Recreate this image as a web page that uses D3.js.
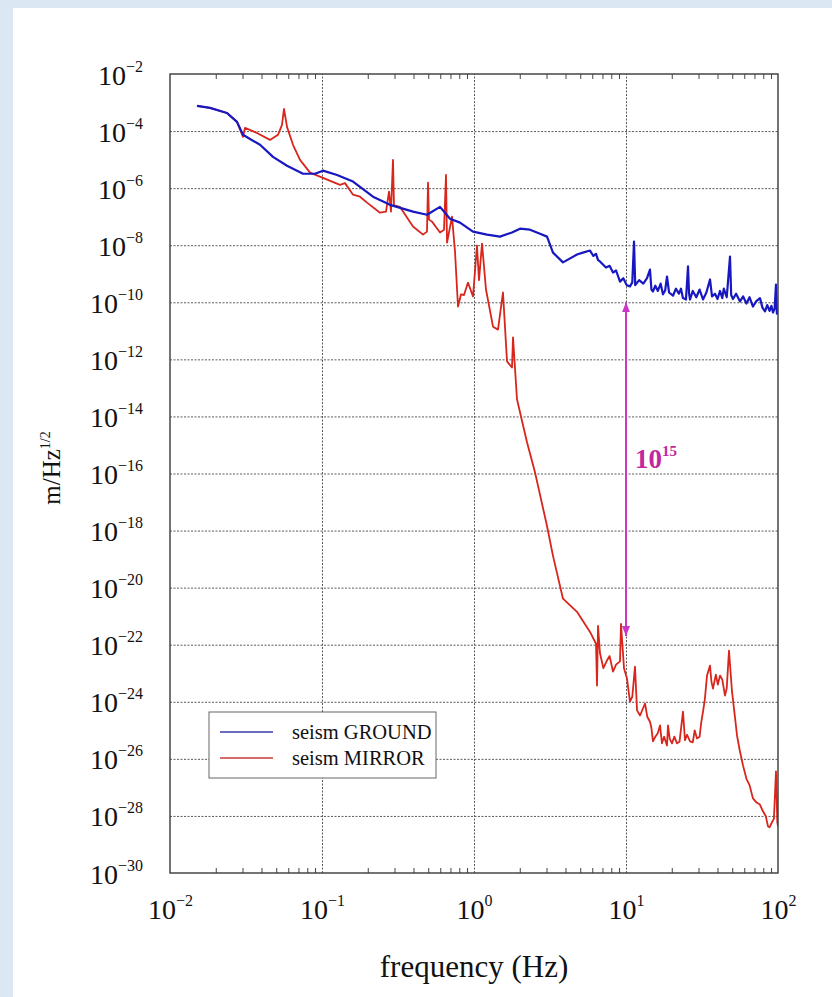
<!DOCTYPE html>
<html>
<head>
<meta charset="utf-8">
<script src="https://cdn.jsdelivr.net/npm/d3@7"></script>
<style>
  html, body { margin: 0; padding: 0; background: #dce7f4; }
  svg { display: block; }
</style>
</head>
<body>
<svg id="chart" width="832" height="997"></svg>
<script>
// ---------------- data ----------------
const xTickExps = [-2, -1, 0, 1, 2];
const yTickExps = [-2, -4, -6, -8, -10, -12, -14, -16, -18, -20, -22, -24, -26, -28, -30];
const seriesNames = ["seism GROUND", "seism MIRROR"];
const xLabel = "frequency (Hz)";
const yLabelMain = "m/Hz";
const yLabelSup = "1/2";

// seism GROUND (Hz, m/Hz^1/2)
const groundFreq = [0.01505, 0.01833, 0.02371, 0.02759, 0.03022, 0.03361, 0.0391, 0.0476, 0.05886, 0.07499,
  0.08995, 0.1015, 0.1256, 0.16, 0.2165, 0.2802, 0.397, 0.4906, 0.5975, 0.6953,
  0.809, 0.985, 1.217, 1.483, 1.778, 2.007, 2.336, 2.718, 3.022, 3.309,
  3.85, 4.76, 5.2, 5.798, 6.1, 6.348, 6.55, 6.744, 7.0, 7.386,
  7.8, 8.213, 8.6, 9.131, 9.6, 10.1, 10.62, 11.0, 11.29, 11.5,
  12.2, 13.0, 13.75, 14.38, 14.7, 15.05, 15.6, 16.2, 16.9, 17.51,
  18.1, 18.61, 19.2, 20.38, 21.3, 22.3, 23.0, 23.7, 24.81, 25.58,
  26.0, 26.38, 27.5, 29.0, 30.5, 32.11, 33.8, 35.7, 36.8, 38.5,
  40.0, 41.54, 43.0, 44.0, 46.0, 48.33, 49.2, 50.57, 53.0, 56.23,
  59.0, 62.0, 65.0, 68.45, 72.0, 76.12, 79.0, 82.13, 85.0, 88.0,
  90.5, 92.71, 95.0, 97.0, 98.3, 100];
const groundAmp = [7.6e-4, 6.5e-4, 4.3e-4, 2.1e-4, 7.4e-5, 5.3e-5, 3.3e-5, 1.25e-5, 6.1e-6, 3.2e-6,
  3.2e-6, 4.1e-6, 2.9e-6, 1.7e-6, 5.0e-7, 2.6e-7, 1.5e-7, 1.17e-7, 2.2e-7, 8.5e-8,
  6.2e-8, 3.0e-8, 2.35e-8, 2.0e-8, 2.8e-8, 3.8e-8, 3.5e-8, 2.5e-8, 2.0e-8, 5.5e-9,
  2.5e-9, 4.7e-9, 5.5e-9, 6.5e-9, 4.2e-9, 5.0e-9, 3.0e-9, 2.7e-9, 2.2e-9, 1.65e-9,
  1.9e-9, 1.1e-9, 1.3e-9, 5.3e-10, 7.0e-10, 4.0e-10, 3.6e-10, 5.0e-10, 1.34e-8, 4.0e-10,
  6.0e-10, 4.5e-10, 7.0e-10, 1.4e-9, 2.8e-10, 2.4e-10, 3.8e-10, 2.5e-10, 4.5e-10, 1.9e-10,
  2.6e-10, 8.0e-10, 2.2e-10, 1.7e-10, 3.0e-10, 2.0e-10, 3.0e-10, 1.4e-10, 1.25e-10, 1.8e-9,
  2.0e-10, 1.25e-10, 2.5e-10, 1.5e-10, 2.8e-10, 1.25e-10, 2.2e-10, 6.3e-10, 1.6e-10, 2.0e-10,
  1.3e-10, 2.5e-10, 1.4e-10, 3.0e-10, 1.5e-10, 4.0e-9, 1.8e-10, 1.3e-10, 2.0e-10, 1.07e-10,
  1.6e-10, 9.0e-11, 1.5e-10, 7.1e-11, 1.1e-10, 1.4e-10, 6.5e-11, 4.8e-11, 8.0e-11, 5.0e-11,
  7.5e-11, 4.4e-11, 6.0e-11, 4.2e-10, 4.0e-11, 5.0e-11];

// seism MIRROR (Hz, m/Hz^1/2)
const mirrorFreq = [0.01505, 0.01833, 0.02371, 0.02759, 0.02931, 0.03022, 0.03114, 0.03736, 0.04548, 0.05134,
  0.05455, 0.05623, 0.05886, 0.06445, 0.07166, 0.0834, 0.1015, 0.1314, 0.1417, 0.16,
  0.1778, 0.1978, 0.2407, 0.2637, 0.2759, 0.2844, 0.2931, 0.2976, 0.326, 0.397,
  0.4618, 0.4906, 0.4983, 0.5058, 0.5293, 0.5975, 0.6348, 0.6543, 0.6647, 0.7166,
  0.7499, 0.7847, 0.8216, 0.8594, 0.9131, 0.985, 1.046, 1.079, 1.129, 1.199,
  1.334, 1.438, 1.551, 1.649, 1.778, 1.806, 1.918, 2.232, 2.519, 3.022,
  3.309, 3.85, 4.76, 5.798, 6.348, 6.446, 6.545, 6.744, 7.1, 7.499,
  7.8, 8.213, 8.6, 9.131, 9.271, 9.7, 10.15, 10.62, 11.0, 11.46,
  11.82, 12.37, 13.34, 13.8, 14.38, 14.7, 15.05, 15.6, 16.2, 16.74,
  17.25, 17.8, 18.61, 18.89, 19.4, 20.07, 20.8, 21.65, 22.5, 23.71,
  24.44, 25.2, 26.38, 27.5, 28.3, 29.31, 30.5, 31.3, 32.11, 33.0,
  34.12, 35.7, 36.5, 37.35, 39.0, 40.2, 41.54, 43.0, 44.8, 46.0,
  47.6, 49.82, 51.5, 53.75, 56.0, 58.85, 62.0, 65.0, 68.45, 72.0,
  76.0, 79.66, 83.0, 85.94, 88.0, 91.31, 94.0, 97.0, 99.0, 100];
const mirrorAmp = [7.6e-4, 6.5e-4, 4.3e-4, 2.1e-4, 9.4e-5, 6.3e-5, 1.3e-4, 8.6e-5, 4.9e-5, 7.4e-5,
  1.65e-4, 6.0e-4, 1.4e-4, 3.3e-5, 9.8e-6, 3.5e-6, 2.3e-6, 1.3e-6, 1.5e-6, 5.9e-7,
  5.0e-7, 3.1e-7, 1.38e-7, 1.5e-7, 7.5e-7, 1.5e-7, 9.8e-6, 2.5e-7, 2.2e-7, 4.5e-8,
  2.35e-8, 3.0e-8, 1.55e-6, 8.0e-8, 6.7e-8, 2.8e-8, 3.5e-8, 2.9e-6, 1.23e-8, 1.0e-7,
  6.0e-9, 7.1e-11, 1.9e-10, 1.8e-10, 4.9e-10, 1.6e-10, 9.7e-9, 6.0e-10, 1.14e-8, 2.8e-10,
  1.4e-11, 1.1e-11, 2.2e-10, 8.5e-13, 5.2e-13, 5.9e-12, 4.0e-14, 1.25e-15, 1.1e-16, 1.45e-18,
  1.3e-19, 4.1e-21, 1.42e-21, 2.8e-22, 1.08e-22, 3.7e-24, 4.6e-22, 5.0e-23, 1.5e-23, 2.8e-23,
  4.0e-23, 1.14e-23, 2.0e-23, 2.6e-23, 5.4e-22, 1.5e-23, 6.5e-24, 1.02e-24, 1.5e-24, 1.7e-23,
  5.0e-25, 3.3e-25, 8.7e-25, 3.0e-25, 2.0e-25, 1.2e-25, 4.1e-26, 6.0e-26, 8.0e-26, 1.48e-25,
  3.5e-26, 6.0e-26, 2.95e-26, 1.48e-25, 5.0e-26, 3.5e-26, 6.0e-26, 3.5e-26, 4.0e-26, 4.5e-25,
  4.5e-26, 7.0e-26, 4.1e-26, 3.8e-26, 1.0e-25, 5.2e-26, 6.0e-26, 2.0e-25, 4.5e-25, 1.2e-24,
  8.3e-24, 1.85e-23, 5.0e-24, 2.9e-24, 9.0e-24, 4.0e-24, 8.3e-24, 6.0e-24, 1.65e-24, 3.0e-24,
  6.2e-23, 2.3e-24, 5.0e-25, 6.6e-26, 2.0e-26, 5.9e-27, 2.0e-27, 1.2e-27, 4.1e-28, 3.0e-28,
  2.5e-28, 1.45e-28, 1.0e-28, 4.3e-29, 4.0e-29, 6.0e-29, 8.0e-29, 3.6e-27, 6.0e-29, 4.4e-29];

// annotation: attenuation arrow at 10 Hz
const arrowFreq = 10;
const arrowTop = 1e-10;
const arrowBottom = 2e-22;
const arrowLabelExp = 15;

// ---------------- drawing ----------------
(function () {
const svg = d3.select("#chart");
const W = 832, H = 997;
const pL = 170, pR = 778, pT = 74, pB = 873;
const serif = "'Liberation Serif', 'Times New Roman', serif";

svg.append("rect").attr("x", 13).attr("y", 8).attr("width", W - 13).attr("height", H - 8).attr("fill", "#ffffff");

const x = d3.scaleLog().domain([1e-2, 1e2]).range([pL, pR]);
const y = d3.scaleLog().domain([1e-30, 1e-2]).range([pB, pT]);

const xMajor = xTickExps.map(e => Math.pow(10, e));
const yMajor = yTickExps.map(e => Math.pow(10, e));
const xMinor = [];
for (let e = -2; e < 2; e++) for (let m = 2; m <= 9; m++) xMinor.push(m * Math.pow(10, e));

// grid
const gridColor = "#5a5a5a";
svg.append("g").attr("transform", `translate(0,${pB})`)
  .call(d3.axisBottom(x).tickValues(xMajor.slice(1, -1)).tickSize(-(pB - pT)).tickFormat(""))
  .call(g => g.select(".domain").remove())
  .call(g => g.selectAll("line").attr("stroke", gridColor).attr("stroke-width", 1).attr("stroke-dasharray", "2,1.5"));
svg.append("g").attr("transform", `translate(${pL},0)`)
  .call(d3.axisLeft(y).tickValues(yMajor.slice(1, -1)).tickSize(-(pR - pL)).tickFormat(""))
  .call(g => g.select(".domain").remove())
  .call(g => g.selectAll("line").attr("stroke", gridColor).attr("stroke-width", 1).attr("stroke-dasharray", "2,1.5"));

// minor ticks on top and bottom
svg.append("g").attr("transform", `translate(0,${pB})`)
  .call(d3.axisBottom(x).tickValues(xMinor).tickSize(-5).tickFormat(""))
  .call(g => g.select(".domain").remove())
  .call(g => g.selectAll("line").attr("stroke", "#444"));
svg.append("g").attr("transform", `translate(0,${pT})`)
  .call(d3.axisTop(x).tickValues(xMinor).tickSize(-5).tickFormat(""))
  .call(g => g.select(".domain").remove())
  .call(g => g.selectAll("line").attr("stroke", "#444"));

// curves
const line = d3.line().x(d => x(d[0])).y(d => y(d[1]));
const groundData = groundFreq.map((f, i) => [f, groundAmp[i]]);
const mirrorData = mirrorFreq.map((f, i) => [f, mirrorAmp[i]]);
svg.append("clipPath").attr("id", "clip").append("rect")
  .attr("x", pL).attr("y", pT).attr("width", pR - pL).attr("height", pB - pT);
const plotG = svg.append("g").attr("clip-path", "url(#clip)");
plotG.append("path").datum(mirrorData).attr("d", line)
  .attr("fill", "none").attr("stroke", "#d8261c").attr("stroke-width", 1.8).attr("stroke-linejoin", "round");
plotG.append("path").datum(groundData).attr("d", line)
  .attr("fill", "none").attr("stroke", "#1818c0").attr("stroke-width", 2.2).attr("stroke-linejoin", "round");

// frame
svg.append("rect").attr("x", pL).attr("y", pT).attr("width", pR - pL).attr("height", pB - pT)
  .attr("fill", "none").attr("stroke", "#3a3a3a").attr("stroke-width", 1.4);

function supLabel(sel, base, sup, bigSize, smallSize, rise) {
  sel.append("tspan").text(base).attr("font-size", bigSize);
  sel.append("tspan").text(sup).attr("font-size", smallSize).attr("dy", -rise);
}
const expText = e => (e < 0 ? "\u2212" + (-e) : String(e));

// y tick labels
const yAxisG = svg.append("g").attr("transform", `translate(${pL},0)`)
  .call(d3.axisLeft(y).tickValues(yMajor).tickSize(0).tickFormat(""));
yAxisG.select(".domain").remove();
yAxisG.selectAll(".tick").each(function (d) {
  const e = Math.round(Math.log10(d));
  const t = d3.select(this).append("text")
    .attr("x", -27).attr("y", 10).attr("text-anchor", "end")
    .attr("fill", "#111").attr("font-family", serif);
  supLabel(t, "10", expText(e), 28, 16, 13);
});

// x tick labels
const xAxisG = svg.append("g").attr("transform", `translate(0,${pB})`)
  .call(d3.axisBottom(x).tickValues(xMajor).tickSize(0).tickFormat(""));
xAxisG.select(".domain").remove();
xAxisG.selectAll(".tick").each(function (d) {
  const e = Math.round(Math.log10(d));
  const t = d3.select(this).append("text")
    .attr("x", 0).attr("y", 46).attr("text-anchor", "middle")
    .attr("fill", "#111").attr("font-family", serif);
  supLabel(t, "10", expText(e), 28, 16, 13);
});

// axis titles
svg.append("text").attr("x", (pL + pR) / 2).attr("y", 977).attr("text-anchor", "middle")
  .attr("font-family", serif).attr("font-size", 31).attr("fill", "#111").text(xLabel);
const yl = svg.append("text").attr("transform", "translate(60,468) rotate(-90)").attr("text-anchor", "middle")
  .attr("font-family", serif).attr("fill", "#111");
supLabel(yl, yLabelMain, yLabelSup, 25, 14, 10);

// legend
const lg = svg.append("g");
lg.append("rect").attr("x", 209).attr("y", 712).attr("width", 227).attr("height", 66)
  .attr("fill", "#fff").attr("stroke", "#666").attr("stroke-width", 1);
const legColors = ["#3b3ba8", "#c83a34"];
seriesNames.forEach((n, i) => {
  const yy = 732 + i * 26;
  lg.append("line").attr("x1", 220).attr("x2", 273).attr("y1", yy).attr("y2", yy)
    .attr("stroke", legColors[i]).attr("stroke-width", 1.5);
  lg.append("text").attr("x", 292).attr("y", yy + 7).attr("font-family", serif).attr("font-size", 20.5)
    .attr("fill", "#111").text(n);
});

// arrow annotation
const mag = "#cc36c6";
const defs = svg.append("defs");
defs.append("marker").attr("id", "ah").attr("viewBox", "0 0 10 10").attr("refX", 10).attr("refY", 5)
  .attr("markerWidth", 10).attr("markerHeight", 10).attr("markerUnits", "userSpaceOnUse")
  .attr("orient", "auto-start-reverse")
  .append("path").attr("d", "M0,1 L10,5 L0,9 Z").attr("fill", mag);
svg.append("line").attr("x1", x(arrowFreq)).attr("x2", x(arrowFreq))
  .attr("y1", y(arrowTop)).attr("y2", y(arrowBottom))
  .attr("stroke", mag).attr("stroke-width", 2)
  .attr("marker-start", "url(#ah)").attr("marker-end", "url(#ah)");
const at = svg.append("text").attr("x", x(arrowFreq) + 9).attr("y", 468)
  .attr("font-family", serif).attr("font-weight", "bold").attr("fill", "#c2289e");
supLabel(at, "10", String(arrowLabelExp), 27, 15, 12);
})();
</script>
</body>
</html>
